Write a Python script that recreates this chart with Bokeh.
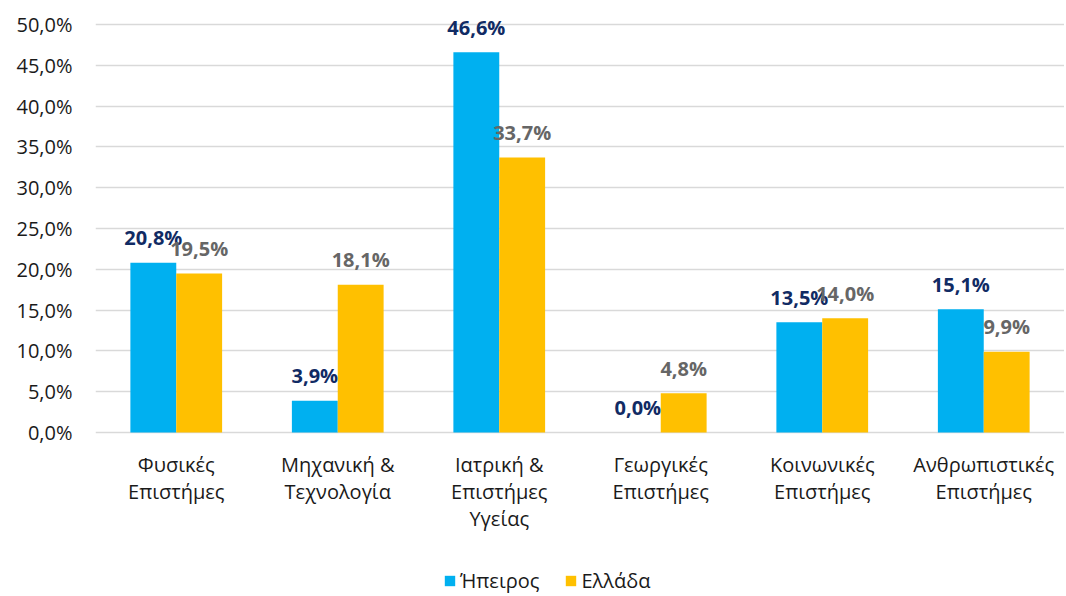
from bokeh.plotting import figure
from bokeh.models import ColumnDataSource, FactorRange, Range1d, FixedTicker, Legend, LegendItem
from bokeh.transform import dodge
from bokeh.core.properties import value
from bokeh.embed import file_html
from bokeh.resources import INLINE

categories = ["Φυσικές\nΕπιστήμες", "Μηχανική &\nΤεχνολογία", "Ιατρική &\nΕπιστήμες\nΥγείας",
              "Γεωργικές\nΕπιστήμες", "Κοινωνικές\nΕπιστήμες", "Ανθρωπιστικές\nΕπιστήμες"]
series_names = ["Ήπειρος", "Ελλάδα"]
epirus = [20.8, 3.9, 46.6, 0.0, 13.5, 15.1]
greece = [19.5, 18.1, 33.7, 4.8, 14.0, 9.9]
y_ticks = [0, 5, 10, 15, 20, 25, 30, 35, 40, 45, 50]

def fmt(v):
    return f"{v:.1f}".replace(".", ",") + "%"

FONT = "Open Sans"
BLUE = "#00B0F0"
YELLOW = "#FFC000"

H = 594
PX_PER_UNIT = 408 / 50      # 50% spans 408 px
ZERO_PX = 432               # y=0 position from top of frame

src = ColumnDataSource(dict(
    cat=categories,
    zero=[0] * len(categories),
    ep=epirus, gr=greece,
    ep_lab=[fmt(v) for v in epirus],
    gr_lab=[fmt(v) for v in greece],
))

p = figure(x_range=FactorRange(*categories),
           y_range=Range1d(-(H - ZERO_PX) / PX_PER_UNIT, ZERO_PX / PX_PER_UNIT),
           width=1064, height=H, output_backend="svg", toolbar_location=None,
           min_border_left=95, min_border_right=0, min_border_top=0, min_border_bottom=0)
p.outline_line_color = None
p.background_fill_color = "white"
p.border_fill_color = "white"

bw = 0.284
r1 = p.vbar(x=dodge("cat", -bw / 2, range=p.x_range), top="ep", width=bw, source=src,
            fill_color=BLUE, line_color=None)
r2 = p.vbar(x=dodge("cat", bw / 2, range=p.x_range), top="gr", width=bw, source=src,
            fill_color=YELLOW, line_color=None)

p.text(x=dodge("cat", -bw / 2, range=p.x_range), y="ep", text="ep_lab", source=src,
       text_font=value(FONT), text_font_style="bold", text_font_size="20px",
       text_color="#112B64", text_align="center", text_baseline="middle", y_offset=-25)
p.text(x=dodge("cat", bw / 2, range=p.x_range), y="gr", text="gr_lab", source=src,
       text_font=value(FONT), text_font_style="bold", text_font_size="20px",
       text_color="#666666", text_align="center", text_baseline="middle", y_offset=-25)

# category labels under the bars
p.text(x="cat", y="zero", text="cat", source=src,
       text_font=value(FONT), text_font_size="20px", text_color="#1a1a1a",
       text_align="center", text_baseline="top", y_offset=18, text_line_height=1.0)

p.xaxis.visible = False
p.yaxis.ticker = FixedTicker(ticks=y_ticks)
p.yaxis.major_label_overrides = {t: fmt(t) for t in y_ticks}
ax = p.yaxis[0]
ax.axis_line_color = None
ax.major_tick_line_color = None
ax.minor_tick_line_color = None
ax.major_tick_in = 0
ax.major_tick_out = 0
ax.major_label_text_font = FONT
ax.major_label_text_font_size = "20px"
ax.major_label_text_color = "#1a1a1a"
ax.major_label_standoff = 23

p.xgrid.grid_line_color = None
p.ygrid.grid_line_color = "#D9D9D9"
p.ygrid.grid_line_width = 1.3

legend = Legend(items=[LegendItem(label=series_names[0], renderers=[r1]),
                       LegendItem(label=series_names[1], renderers=[r2])],
                orientation="horizontal", location=(348, 0),
                label_text_font=FONT, label_text_font_size="20px", label_text_color="#1a1a1a",
                glyph_width=13, glyph_height=13, label_standoff=4, spacing=25,
                padding=0, margin=0, border_line_color=None, background_fill_alpha=0)
p.add_layout(legend, "center")

open("out.html", "w").write(file_html(p, INLINE))
